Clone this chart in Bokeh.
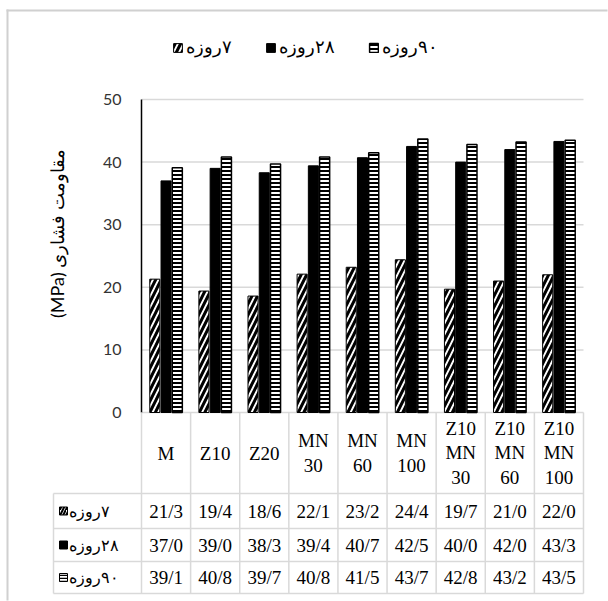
import numpy as np
from bokeh.plotting import figure
from bokeh.models import Range1d, FixedTicker, Legend, LegendItem
from bokeh.embed import file_html
from bokeh.resources import INLINE
from bokeh.core.properties import value

# ---------------- data ----------------
categories = ["M", "Z10", "Z20", "MN\n30", "MN\n60", "MN\n100",
              "Z10\nMN\n30", "Z10\nMN\n60", "Z10\nMN\n100"]
series_names = ["۷روزه", "۲۸روزه", "۹۰روزه"]
day7 = [21.3, 19.4, 18.6, 22.1, 23.2, 24.4, 19.7, 21.0, 22.0]
day28 = [37.0, 39.0, 38.3, 39.4, 40.7, 42.5, 40.0, 42.0, 43.3]
day90 = [39.1, 40.8, 39.7, 40.8, 41.5, 43.7, 42.8, 43.2, 43.5]
y_ticks = [0, 10, 20, 30, 40, 50]
y_title = "مقاومت فشاری (MPa)"

RLE, PDF = "\u202B", "\u202C"

# ---------------- layout (pixels) ----------------
W, H = 608, 601
FRAME_L = 141          # y-axis position
PX_CAT = 49.11         # width of one category column
PX_UNIT = 6.26         # pixels per MPa
Y0 = 412               # pixel row of value 0


def xd(px):
    return (px - FRAME_L) / PX_CAT


def yd(py):
    return (Y0 - py) / PX_UNIT


x_range = Range1d(0, xd(W))
y_range = Range1d(yd(H), yd(0))

p = figure(width=W, height=H, x_range=x_range, y_range=y_range,
           output_backend="svg", toolbar_location=None,
           x_axis_location=None, y_axis_location="left",
           min_border=0, min_border_left=FRAME_L,
           outline_line_color=None, background_fill_color="white",
           border_fill_color="white")
p.grid.visible = False

ax = p.yaxis[0]
ax.ticker = FixedTicker(ticks=y_ticks)
ax.bounds = (min(y_ticks), max(y_ticks))
ax.axis_line_color = "black"
ax.axis_line_width = 1.5
ax.major_tick_line_color = None
ax.minor_tick_line_color = None
ax.major_tick_out = 0
ax.major_tick_in = 0
ax.major_label_standoff = 20
ax.major_label_text_font = "Lato"
ax.major_label_text_font_size = "16px"
ax.major_label_text_color = "#333333"

n = len(categories)
centers = np.arange(n) + 0.5
ncat = float(n)
GRID = "#d9d9d9"
BORDER = "#d0d0d0"

# gridlines (value axis)
p.segment(x0=0, x1=ncat, y0=y_ticks, y1=y_ticks, line_color=GRID,
          line_width=1.5, level="underlay")

# bars
off = 0.229
bw = 0.205
r7 = p.vbar(x=centers - off, top=day7, width=bw, fill_color="white",
            line_color="black", line_width=1, hatch_pattern="/",
            hatch_color="black", hatch_scale=11, hatch_weight=3)
r28 = p.vbar(x=centers, top=day28, width=bw, fill_color="black",
             line_color="black", line_width=1)
r90 = p.vbar(x=centers + off, top=day90, width=bw, fill_color="white",
             line_color="black", line_width=1.5, hatch_pattern="-",
             hatch_color="black", hatch_scale=4, hatch_weight=2)

legend = Legend(items=[LegendItem(label=RLE + s + PDF, renderers=[r])
                       for s, r in zip(series_names, [r7, r28, r90])],
                orientation="horizontal", location=(31, H - 58),
                glyph_width=11, glyph_height=11, label_standoff=3,
                spacing=33, padding=0, margin=0, border_line_color=None,
                background_fill_alpha=0, label_text_font="Liberation Serif",
                label_text_font_size="18px", label_text_color="black")
p.add_layout(legend)

# ---------------- data table ----------------
row_px = [413, 493, 528, 561, 593]
rows = [yd(v) for v in row_px]
rows[0] = 0.0
lab_left = xd(53)

# vertical lines of the category columns
p.segment(x0=list(range(n + 1)), x1=list(range(n + 1)),
          y0=[rows[0]] * (n + 1), y1=[rows[-1]] * (n + 1),
          line_color=GRID, line_width=1.5, level="overlay")
# horizontal lines (including the series-label column)
p.segment(x0=[lab_left] * 4, x1=[ncat] * 4, y0=rows[1:], y1=rows[1:],
          line_color=GRID, line_width=1.5, level="overlay")
p.segment(x0=[lab_left], x1=[lab_left], y0=[rows[1]], y1=[rows[-1]],
          line_color=GRID, line_width=1.5, level="overlay")

# header (category labels)
p.text(x=centers, y=[(rows[0] + rows[1]) / 2] * n, text=categories,
       text_align="center", text_baseline="middle",
       text_font=value("Liberation Serif"), text_font_size="19px",
       text_line_height=1.16, text_color="black")

# value rows
series = [day7, day28, day90]
styles = [dict(fill_color="white", hatch_pattern="/", hatch_scale=6, hatch_weight=2),
          dict(fill_color="black"),
          dict(fill_color="white", hatch_pattern="-", hatch_scale=3, hatch_weight=1.5)]
for k, (vals, name, st) in enumerate(zip(series, series_names, styles)):
    yc = (rows[k + 1] + rows[k + 2]) / 2
    p.text(x=centers, y=[yc] * n,
           text=[f"{v:.1f}".replace(".", "/") for v in vals],
           text_align="center", text_baseline="middle",
           text_font=value("Liberation Serif"), text_font_size="19px",
           text_color="black")
    p.rect(x=[xd(63)], y=[yc], width=8 / PX_CAT, height=8 / PX_UNIT,
           line_color="black", line_width=1, hatch_color="black",
           level="overlay", **st)
    p.text(x=[xd(68)], y=[yc], text=[RLE + name + PDF],
           text_align="left", text_baseline="middle",
           text_font=value("Liberation Serif"), text_font_size="16px",
           text_color="black", level="overlay")

# y-axis title
p.text(x=[xd(56)], y=[yd(233)], text=[RLE + y_title + PDF], angle=np.pi / 2,
       text_align="center", text_baseline="middle",
       text_font=value("Lato"), text_font_size="18px", text_color="black",
       level="overlay")

# outer chart border (left and top edges; right/bottom fall outside the window)
p.quad(left=[xd(6)], right=[xd(8)], bottom=[yd(H - 1)], top=[yd(9)],
       fill_color=BORDER, line_color=None, level="overlay")
p.quad(left=[xd(6)], right=[xd(W - 1)], bottom=[yd(11)], top=[yd(9)],
       fill_color=BORDER, line_color=None, level="overlay")

open("out.html", "w").write(file_html(p, INLINE))
